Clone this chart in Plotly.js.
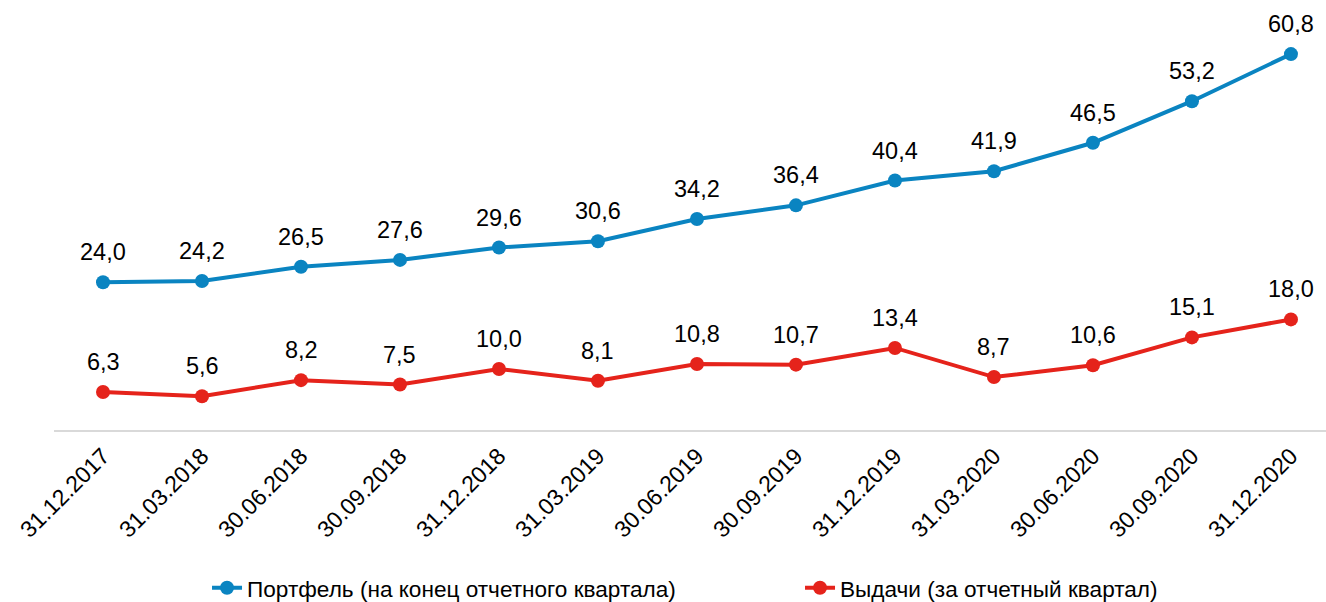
<!DOCTYPE html>
<html>
<head>
<meta charset="utf-8">
<script src="https://cdn.plot.ly/plotly-3.0.1.min.js"></script>
<style>html,body{margin:0;padding:0;background:#fff;}#chart{width:1326px;height:602px;}</style>
</head>
<body>
<div id="chart"></div>
<script>
const dates = ["31.12.2017","31.03.2018","30.06.2018","30.09.2018","31.12.2018","31.03.2019","30.06.2019","30.09.2019","31.12.2019","31.03.2020","30.06.2020","30.09.2020","31.12.2020"];
const portfolio = [24.0,24.2,26.5,27.6,29.6,30.6,34.2,36.4,40.4,41.9,46.5,53.2,60.8];
const issuance = [6.3,5.6,8.2,7.5,10.0,8.1,10.8,10.7,13.4,8.7,10.6,15.1,18.0];
const nameP = "Портфель (на конец отчетного квартала)";
const nameI = "Выдачи (за отчетный квартал)";
const blue = "#0a84c1";
const red = "#e5231b";
const font = "Liberation Sans, Arial, sans-serif";

const xs = dates.map((d, i) => i);
const fmt = v => v.toFixed(1).replace('.', ',');

const traces = [
  {x: xs, y: portfolio, name: nameP, type: 'scatter', mode: 'lines+markers',
   line: {color: blue, width: 4}, marker: {color: blue, size: 14}},
  {x: xs, y: issuance, name: nameI, type: 'scatter', mode: 'lines+markers',
   line: {color: red, width: 4}, marker: {color: red, size: 14}}
];

const annotations = [];
[portfolio, issuance].forEach(series => {
  series.forEach((v, i) => {
    annotations.push({x: xs[i], y: v, text: fmt(v), showarrow: false, yshift: 30,
      font: {family: font, size: 23.5, color: '#000'}});
  });
});

const layout = {
  width: 1326, height: 602,
  margin: {l: 54, r: 0, t: 20, b: 171, autoexpand: false},
  paper_bgcolor: '#fff', plot_bgcolor: '#fff',
  showlegend: true,
  legend: {orientation: 'h', x: 0.1203, xanchor: 'left', y: -0.382, yanchor: 'middle',
    font: {family: font, size: 22.6, color: '#000'}, entrywidth: 548, entrywidthmode: 'pixels'},
  xaxis: {range: [-0.495, 12.354], tickvals: xs, ticktext: dates, tickangle: -45,
    showgrid: false, zeroline: false, showline: false, ticks: '', automargin: false,
    ticklabelstandoff: 6,
    tickfont: {family: font, size: 23, color: '#000'}},
  yaxis: {range: [0, 66.3], showgrid: false, zeroline: true, zerolinecolor: '#d9d9d9', zerolinewidth: 2,
    showticklabels: false, ticks: '', showline: false, automargin: false},
  annotations: annotations
};

Plotly.newPlot('chart', traces, layout, {displayModeBar: false, staticPlot: true});
</script>
</body>
</html>
